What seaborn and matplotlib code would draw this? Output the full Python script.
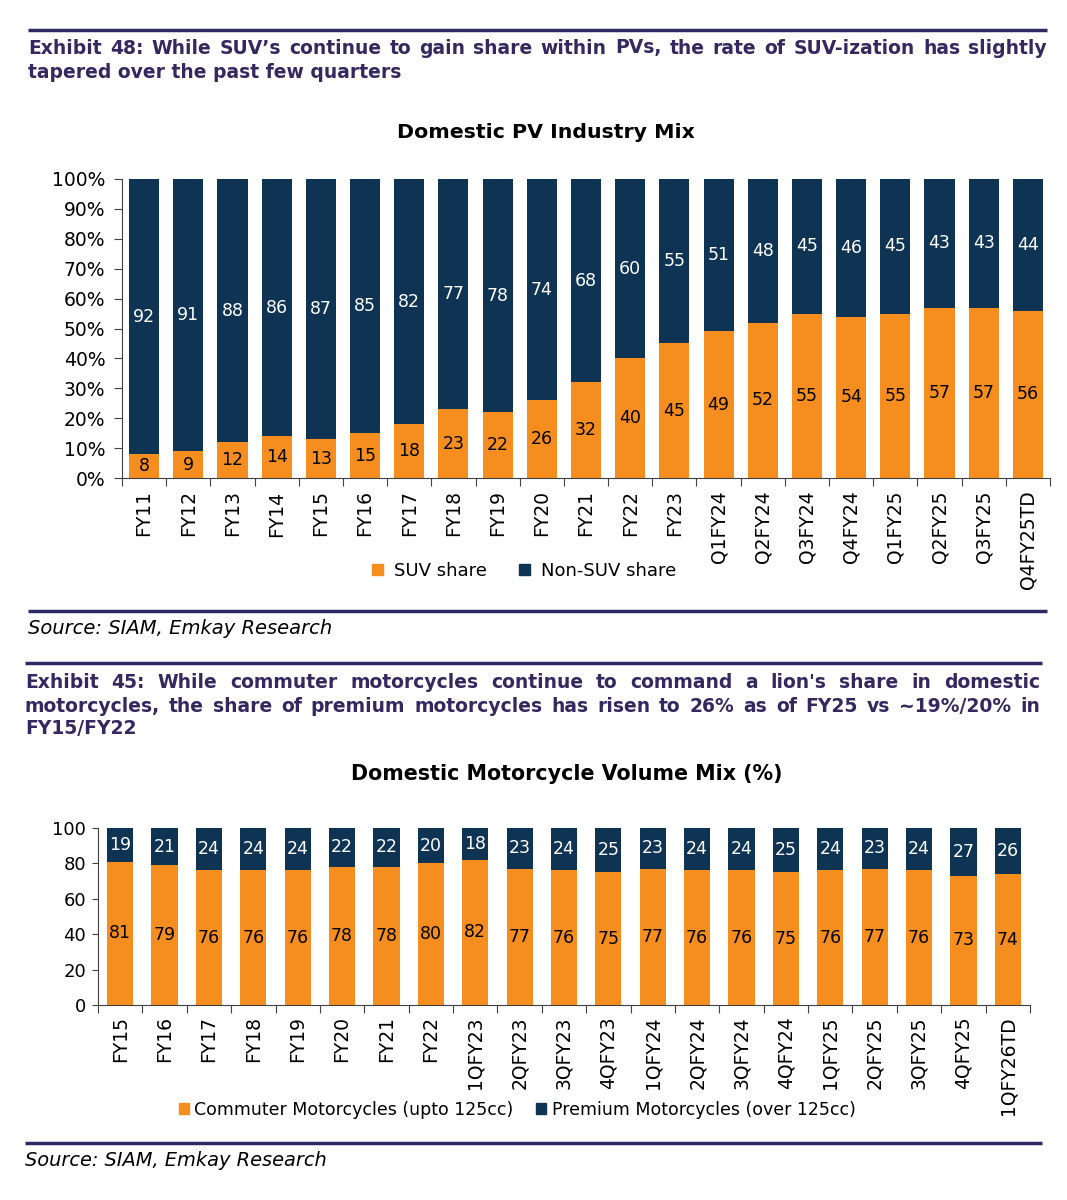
import matplotlib
matplotlib.use('Agg')
import numpy as np
import pandas as pd
import seaborn as sns
import matplotlib.pyplot as plt
from matplotlib.patches import Patch

# Exhibit 48 - domestic PV mix (%)
pv_periods = ['FY11', 'FY12', 'FY13', 'FY14', 'FY15', 'FY16', 'FY17', 'FY18', 'FY19', 'FY20',
              'FY21', 'FY22', 'FY23', 'Q1FY24', 'Q2FY24', 'Q3FY24', 'Q4FY24', 'Q1FY25',
              'Q2FY25', 'Q3FY25', 'Q4FY25TD']
suv_share = [8, 9, 12, 14, 13, 15, 18, 23, 22, 26, 32, 40, 45, 49, 52, 55, 54, 55, 57, 57, 56]
non_suv_share = [92, 91, 88, 86, 87, 85, 82, 77, 78, 74, 68, 60, 55, 51, 48, 45, 46, 45, 43, 43, 44]

# Exhibit 45 - domestic motorcycle mix (%)
mc_periods = ['FY15', 'FY16', 'FY17', 'FY18', 'FY19', 'FY20', 'FY21', 'FY22', '1QFY23', '2QFY23',
              '3QFY23', '4QFY23', '1QFY24', '2QFY24', '3QFY24', '4QFY24', '1QFY25', '2QFY25',
              '3QFY25', '4QFY25', '1QFY26TD']
commuter_share = [81, 79, 76, 76, 76, 78, 78, 80, 82, 77, 76, 75, 77, 76, 76, 75, 76, 77, 76, 73, 74]
premium_share = [19, 21, 24, 24, 24, 22, 22, 20, 18, 23, 24, 25, 23, 24, 24, 25, 24, 23, 24, 27, 26]

W, H = 1067, 1200
ORANGE = '#F68E1F'
NAVY = '#0E3353'
RULE = '#2E2863'
HEAD = '#33295F'

sns.set_style('white')
plt.rcParams['font.family'] = ['DejaVu Sans']
plt.rcParams['text.color'] = 'black'
plt.rcParams['xtick.color'] = 'black'
plt.rcParams['ytick.color'] = 'black'

fig = plt.figure(figsize=(W / 100, H / 100), dpi=100)
renderer = fig.canvas.get_renderer()


def fx(x):
    return x / W


def fy(y):
    return 1 - y / H


def rule(x0, x1, y):
    fig.add_artist(plt.Line2D([fx(x0), fx(x1)], [fy(y), fy(y)], transform=fig.transFigure,
                              color=RULE, lw=2.5, solid_capstyle='butt'))


def fit_text(x, y, s, width, ha='left', **kw):
    t = fig.text(fx(x), fy(y), s, ha=ha, va='center', **kw)
    w = t.get_window_extent(renderer).width
    t.set_fontsize(t.get_fontsize() * width / w)
    return t


def justify(x0, x1, y, s, size, **kw):
    words = s.split()
    texts = [fig.text(0, fy(y), w, ha='left', va='center', fontsize=size, **kw) for w in words]
    widths = [t.get_window_extent(renderer).width for t in texts]
    gap = (x1 - x0 - sum(widths)) / (len(words) - 1)
    x = x0
    for t, w in zip(texts, widths):
        t.set_x(fx(x))
        x += w + gap


def stacked(ax, periods, low, high, width, label_size):
    df = pd.DataFrame({'period': periods, 'low': low, 'total': np.add(low, high)})
    sns.barplot(data=df, x='period', y='total', color=NAVY, saturation=1, width=width,
                errorbar=None, linewidth=0, ax=ax)
    sns.barplot(data=df, x='period', y='low', color=ORANGE, saturation=1, width=width,
                errorbar=None, linewidth=0, ax=ax)
    for i, (a, b) in enumerate(zip(low, high)):
        ax.text(i, a / 2, str(a), ha='center', va='center', fontsize=label_size, color='black')
        ax.text(i, a + b / 2, str(b), ha='center', va='center', fontsize=label_size, color='white')
    ax.set_xlim(-0.5, len(periods) - 0.5)
    ax.set_ylim(0, 100)
    ax.set_xlabel('')
    ax.set_ylabel('')
    ax.set_xticks(range(len(periods)))
    ax.set_xticklabels(periods, rotation=90)
    ax.set_xticks(np.arange(-0.5, len(periods), 1), minor=True)
    ax.tick_params(axis='x', which='minor', bottom=True, length=6, width=0.8, color='#404040')
    for s in ['top', 'right']:
        ax.spines[s].set_visible(False)
    for s in ['left', 'bottom']:
        ax.spines[s].set_color('#404040')
        ax.spines[s].set_linewidth(0.8)


# ---------------- Exhibit 48 ----------------
rule(28, 1047, 30)
t = fit_text(28, 72, 'tapered over the past few quarters', 375, fontweight='bold', color=HEAD)
head_size = t.get_fontsize()
justify(28, 1047, 48, "Exhibit 48: While SUV\u2019s continue to gain share within PVs, the rate of "
        "SUV-ization has slightly", head_size, fontweight='bold', color=HEAD)
fit_text(546, 132, 'Domestic PV Industry Mix', 297, ha='center', fontweight='bold', color='black')

ax1 = fig.add_axes([fx(122), fy(478), (1050 - 122) / W, (478 - 179) / H])
stacked(ax1, pv_periods, suv_share, non_suv_share, 0.68, 12.5)
ax1.set_yticks(range(0, 101, 10))
ax1.set_yticklabels([f'{v}%' for v in range(0, 101, 10)])
ax1.tick_params(axis='y', left=True, length=6, width=0.8, color='#404040', pad=6, labelsize=13.5)
ax1.tick_params(axis='x', which='major', length=0, pad=9, labelsize=13.5)
ax1.legend(handles=[Patch(color=ORANGE, label='SUV share'), Patch(color=NAVY, label='Non-SUV share')],
           loc='center', bbox_to_anchor=(fx(524), fy(571)), bbox_transform=fig.transFigure,
           ncol=2, frameon=False, fontsize=13, handlelength=0.6, handleheight=0.6,
           handletextpad=0.6, columnspacing=1.8)

rule(28, 1047, 611)
fit_text(28, 628, 'Source: SIAM, Emkay Research', 303, style='italic', color='black')

# ---------------- Exhibit 45 ----------------
rule(25, 1042, 663)
justify(25, 1040, 683, "Exhibit 45: While commuter motorcycles continue to command a lion's share "
        "in domestic", head_size, fontweight='bold', color=HEAD)
justify(25, 1040, 706, "motorcycles, the share of premium motorcycles has risen to 26% as of FY25 "
        "vs ~19%/20% in", head_size, fontweight='bold', color=HEAD)
fig.text(fx(25), fy(729), 'FY15/FY22', ha='left', va='center', fontsize=head_size,
         fontweight='bold', color=HEAD)
fit_text(567, 774, 'Domestic Motorcycle Volume Mix (%)', 431, ha='center', fontweight='bold',
         color='black')

ax2 = fig.add_axes([fx(98), fy(1005), (1030 - 98) / W, (1005 - 828) / H])
stacked(ax2, mc_periods, commuter_share, premium_share, 0.59, 12.5)
ax2.set_yticks(range(0, 101, 20))
ax2.tick_params(axis='y', left=True, length=4.5, width=0.8, color='#404040', pad=4, labelsize=13)
ax2.tick_params(axis='x', which='major', length=0, pad=8, labelsize=13.5)
ax2.legend(handles=[Patch(color=ORANGE, label='Commuter Motorcycles (upto 125cc)'),
                    Patch(color=NAVY, label='Premium Motorcycles (over 125cc)')],
           loc='center', bbox_to_anchor=(fx(517), fy(1110)), bbox_transform=fig.transFigure,
           ncol=2, frameon=False, fontsize=12.5, handlelength=0.6, handleheight=0.6,
           handletextpad=0.3, columnspacing=1.3)

rule(25, 1042, 1143)
fit_text(25, 1161, 'Source: SIAM, Emkay Research', 302, style='italic', color='black')

fig.savefig('out.png', dpi=100, facecolor='white')
